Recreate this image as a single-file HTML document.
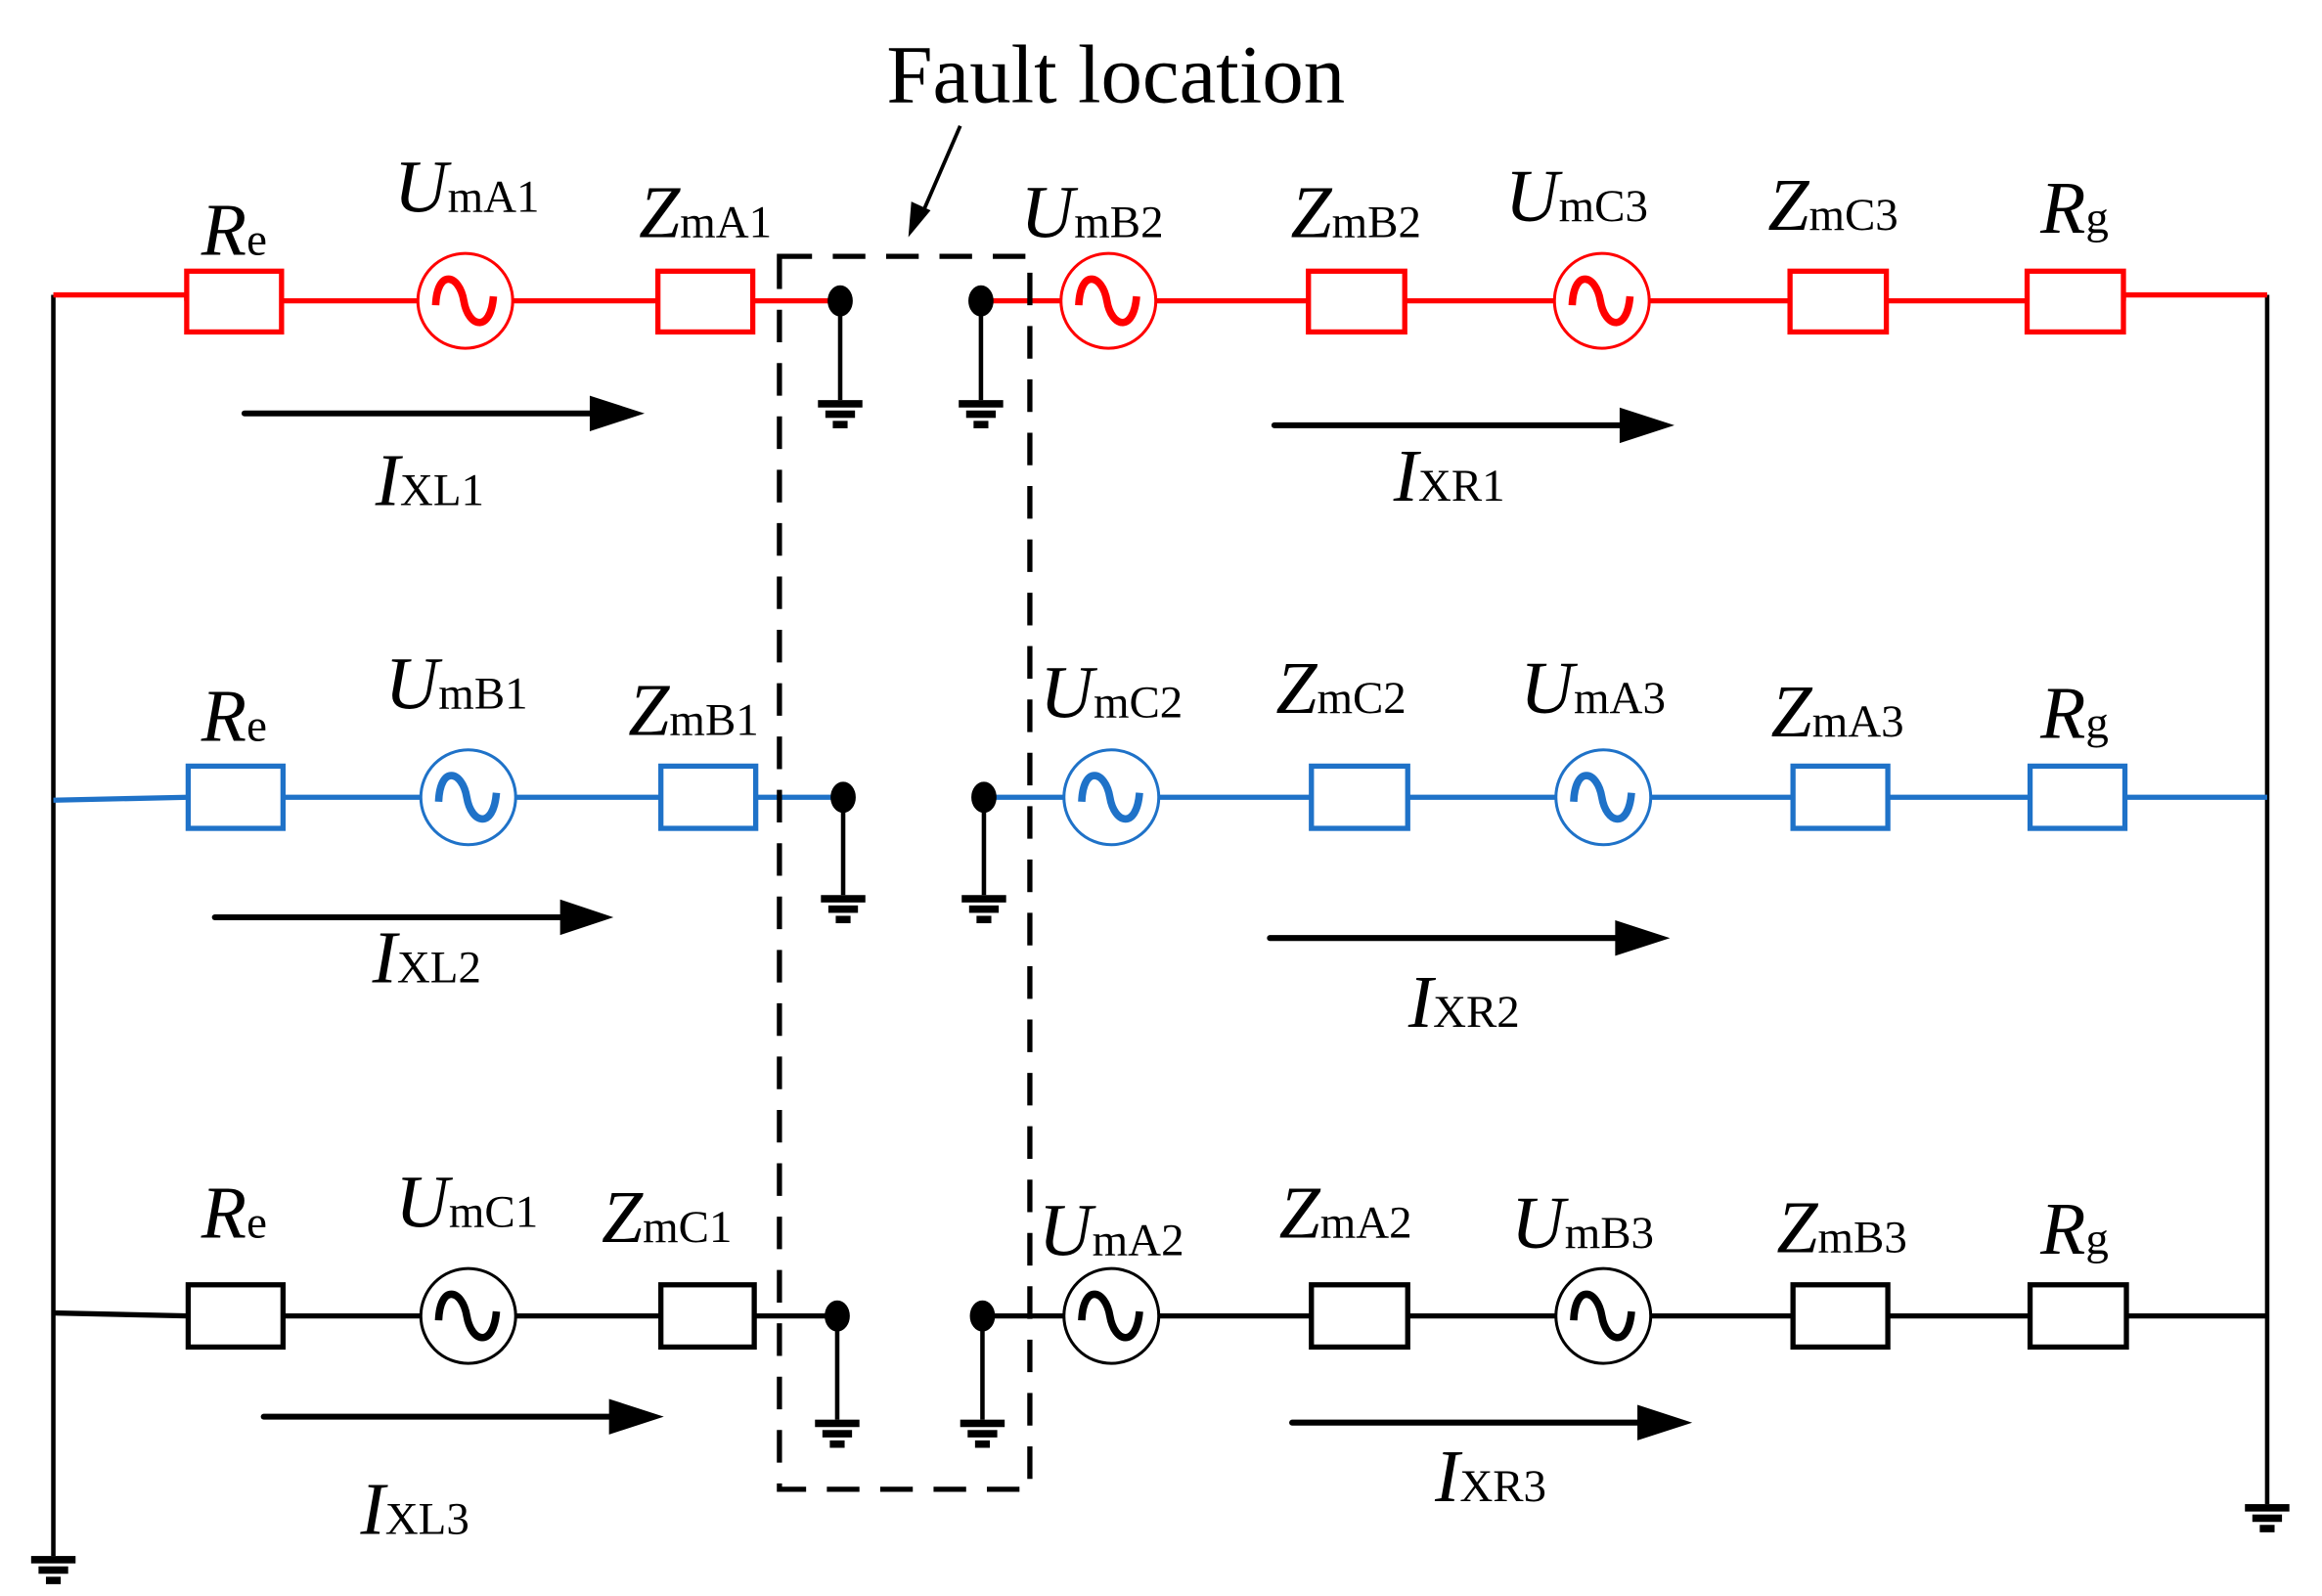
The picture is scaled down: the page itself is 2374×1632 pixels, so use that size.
<!DOCTYPE html>
<html><head><meta charset="utf-8"><style>
html,body{margin:0;padding:0;background:#fff;}
svg{display:block;}
text{font-family:"Liberation Serif",serif;fill:#000;}
.m{font-style:italic;font-size:50px;}
.s{font-size:31px;font-style:normal;}
</style></head><body>
<svg width="2374" height="1632" viewBox="0 0 1567 1077" preserveAspectRatio="none" xmlns="http://www.w3.org/2000/svg">
<defs>
<g id="src"><path d="M-20,3 C-19,-22 -4,-18 -1,0 S17,22 19,-3" fill="none" stroke-width="5"/></g>
<g id="gnd" fill="#000"><rect x="-15" y="0" width="30" height="5"/><rect x="-10" y="7" width="20" height="5"/><rect x="-5" y="14" width="10" height="5"/></g>
</defs>

<g stroke="#000" stroke-width="3" fill="none">
<line x1="36" y1="199" x2="36" y2="1050"/>
<line x1="1530" y1="199" x2="1530" y2="1015"/>
</g>
<use href="#gnd" x="36" y="1050"/>
<use href="#gnd" x="1530" y="1015"/>

<g stroke="#ff0000" stroke-width="3.5" fill="#fff">
<polyline points="36,199 126,199 126,203" fill="none"/>
<line x1="190" y1="203" x2="282" y2="203"/>
<line x1="346" y1="203" x2="444" y2="203"/>
<line x1="508" y1="203" x2="567" y2="203"/>
<line x1="662" y1="203" x2="716" y2="203"/>
<line x1="780" y1="203" x2="883" y2="203"/>
<line x1="948" y1="203" x2="1049" y2="203"/>
<line x1="1113" y1="203" x2="1208" y2="203"/>
<line x1="1273" y1="203" x2="1368" y2="203"/>
<polyline points="1433,203 1433,199 1530,199" fill="none"/>
<rect x="126" y="183" width="64" height="41"/>
<rect x="444" y="183" width="64" height="41"/>
<rect x="883" y="183" width="65" height="41"/>
<rect x="1208" y="183" width="65" height="41"/>
<rect x="1368" y="183" width="65" height="41"/>
<g stroke-width="2"><circle cx="314" cy="203" r="32"/><circle cx="748" cy="203" r="32"/><circle cx="1081" cy="203" r="32"/></g>
<use href="#src" x="314" y="203"/><use href="#src" x="748" y="203"/><use href="#src" x="1081" y="203"/>
</g>

<g stroke="#1f72c8" stroke-width="3.5" fill="#fff">
<line x1="36" y1="540" x2="127" y2="538"/>
<line x1="191" y1="538" x2="284" y2="538"/>
<line x1="348" y1="538" x2="446" y2="538"/>
<line x1="510" y1="538" x2="569" y2="538"/>
<line x1="664" y1="538" x2="718" y2="538"/>
<line x1="782" y1="538" x2="885" y2="538"/>
<line x1="950" y1="538" x2="1050" y2="538"/>
<line x1="1114" y1="538" x2="1210" y2="538"/>
<line x1="1274" y1="538" x2="1370" y2="538"/>
<line x1="1434" y1="538" x2="1530" y2="538"/>
<rect x="127" y="517" width="64" height="42"/>
<rect x="446" y="517" width="64" height="42"/>
<rect x="885" y="517" width="65" height="42"/>
<rect x="1210" y="517" width="64" height="42"/>
<rect x="1370" y="517" width="64" height="42"/>
<g stroke-width="2"><circle cx="316" cy="538" r="32"/><circle cx="750" cy="538" r="32"/><circle cx="1082" cy="538" r="32"/></g>
<use href="#src" x="316" y="538"/><use href="#src" x="750" y="538"/><use href="#src" x="1082" y="538"/>
</g>

<g stroke="#000" stroke-width="3.5" fill="#fff">
<line x1="36" y1="886" x2="127" y2="888"/>
<line x1="191" y1="888" x2="284" y2="888"/>
<line x1="348" y1="888" x2="446" y2="888"/>
<line x1="509" y1="888" x2="565" y2="888"/>
<line x1="663" y1="888" x2="718" y2="888"/>
<line x1="782" y1="888" x2="885" y2="888"/>
<line x1="950" y1="888" x2="1050" y2="888"/>
<line x1="1114" y1="888" x2="1210" y2="888"/>
<line x1="1274" y1="888" x2="1370" y2="888"/>
<line x1="1435" y1="888" x2="1530" y2="888"/>
<rect x="127" y="867" width="64" height="42"/>
<rect x="446" y="867" width="63" height="42"/>
<rect x="885" y="867" width="65" height="42"/>
<rect x="1210" y="867" width="64" height="42"/>
<rect x="1370" y="867" width="65" height="42"/>
<g stroke-width="2"><circle cx="316" cy="888" r="32"/><circle cx="750" cy="888" r="32"/><circle cx="1082" cy="888" r="32"/></g>
<use href="#src" x="316" y="888"/><use href="#src" x="750" y="888"/><use href="#src" x="1082" y="888"/>
</g>

<g stroke="#000" stroke-width="3" fill="#000">
<line x1="567" y1="203" x2="567" y2="270"/><ellipse cx="567" cy="203" rx="7" ry="9"/>
<line x1="662" y1="203" x2="662" y2="270"/><ellipse cx="662" cy="203" rx="7" ry="9"/>
<line x1="569" y1="538" x2="569" y2="604"/><ellipse cx="569" cy="538" rx="7" ry="9"/>
<line x1="664" y1="538" x2="664" y2="604"/><ellipse cx="664" cy="538" rx="7" ry="9"/>
<line x1="565" y1="888" x2="565" y2="958"/><ellipse cx="565" cy="888" rx="7" ry="9"/>
<line x1="663" y1="888" x2="663" y2="958"/><ellipse cx="663" cy="888" rx="7" ry="9"/>
</g>
<use href="#gnd" x="567" y="270"/><use href="#gnd" x="662" y="270"/>
<use href="#gnd" x="569" y="604"/><use href="#gnd" x="664" y="604"/>
<use href="#gnd" x="565" y="958"/><use href="#gnd" x="663" y="958"/>

<rect x="526" y="173" width="169" height="832" fill="none" stroke="#000" stroke-width="3.5" stroke-dasharray="22,14"/>

<line x1="648" y1="85" x2="622" y2="145" stroke="#000" stroke-width="2.5"/>
<polygon points="613,160 615,136 628,142" fill="#000"/>
<text x="753" y="69" text-anchor="middle" style="font-size:56px">Fault location</text>

<g stroke="#000" stroke-width="4" stroke-linecap="round">
<line x1="165" y1="279" x2="400" y2="279"/>
<line x1="860" y1="287" x2="1095" y2="287"/>
<line x1="145" y1="619" x2="380" y2="619"/>
<line x1="857" y1="633" x2="1092" y2="633"/>
<line x1="178" y1="956" x2="413" y2="956"/>
<line x1="872" y1="960" x2="1107" y2="960"/>
</g>
<g fill="#000">
<polygon points="398,267 435,279 398,291"/>
<polygon points="1093,275 1130,287 1093,299"/>
<polygon points="378,607 414,619 378,631"/>
<polygon points="1090,621 1127,633 1090,645"/>
<polygon points="411,944 448,956 411,968"/>
<polygon points="1105,948 1142,960 1105,972"/>
</g>

<g text-anchor="middle">
<text x="158" y="172" class="m">R<tspan class="s">e</tspan></text>
<text x="315" y="143" class="m">U<tspan class="s">mA1</tspan></text>
<text x="476" y="160" class="m">Z<tspan class="s">mA1</tspan></text>
<text x="737" y="160" class="m">U<tspan class="s">mB2</tspan></text>
<text x="915" y="160" class="m">Z<tspan class="s">mB2</tspan></text>
<text x="1064" y="149" class="m">U<tspan class="s">mC3</tspan></text>
<text x="1237" y="155" class="m">Z<tspan class="s">mC3</tspan></text>
<text x="1400" y="157" class="m">R<tspan class="s">g</tspan></text>

<text x="158" y="500" class="m">R<tspan class="s">e</tspan></text>
<text x="308" y="478" class="m">U<tspan class="s">mB1</tspan></text>
<text x="468" y="496" class="m">Z<tspan class="s">mB1</tspan></text>
<text x="750" y="484" class="m">U<tspan class="s">mC2</tspan></text>
<text x="905" y="481" class="m">Z<tspan class="s">mC2</tspan></text>
<text x="1075" y="481" class="m">U<tspan class="s">mA3</tspan></text>
<text x="1240" y="497" class="m">Z<tspan class="s">mA3</tspan></text>
<text x="1400" y="498" class="m">R<tspan class="s">g</tspan></text>

<text x="158" y="835" class="m">R<tspan class="s">e</tspan></text>
<text x="315" y="828" class="m">U<tspan class="s">mC1</tspan></text>
<text x="450" y="838" class="m">Z<tspan class="s">mC1</tspan></text>
<text x="750" y="847" class="m">U<tspan class="s">mA2</tspan></text>
<text x="908" y="835" class="m">Z<tspan class="s">mA2</tspan></text>
<text x="1068" y="842" class="m">U<tspan class="s">mB3</tspan></text>
<text x="1243" y="845" class="m">Z<tspan class="s">mB3</tspan></text>
<text x="1400" y="846" class="m">R<tspan class="s">g</tspan></text>

<text x="290" y="341" class="m">I<tspan class="s">XL1</tspan></text>
<text x="978" y="338" class="m">I<tspan class="s">XR1</tspan></text>
<text x="288" y="663" class="m">I<tspan class="s">XL2</tspan></text>
<text x="988" y="693" class="m">I<tspan class="s">XR2</tspan></text>
<text x="280" y="1035" class="m">I<tspan class="s">XL3</tspan></text>
<text x="1006" y="1013" class="m">I<tspan class="s">XR3</tspan></text>
</g>
</svg>
</body></html>
